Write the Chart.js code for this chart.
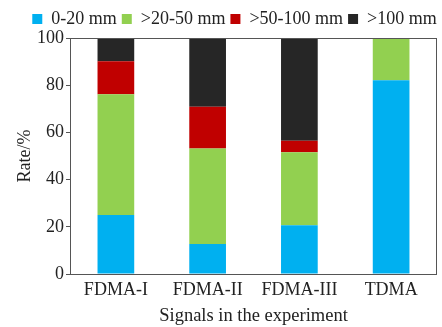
<!DOCTYPE html>
<html>
<head>
<meta charset="utf-8">
<script src="https://cdn.jsdelivr.net/npm/chart.js@4"></script>
<style>
  html, body { margin: 0; padding: 0; background: #fff; }
  #wrap { width: 442px; height: 327px; }
</style>
</head>
<body>
<div id="wrap"><canvas id="chart" width="442" height="327"></canvas></div>
<script>
// categories and stacked values (percent)
const signals = ['FDMA-I', 'FDMA-II', 'FDMA-III', 'TDMA'];
const seriesNames = ['0-20 mm', '>20-50 mm', '>50-100 mm', '>100 mm'];
const rate0to20 = [25.0, 12.7, 20.7, 82.1];
const rate20to50 = [51.2, 40.5, 30.9, 17.9];
const rate50to100 = [14.0, 17.7, 4.9, 0];
const rateOver100 = [9.8, 29.1, 43.5, 0];
const yTicks = [0, 20, 40, 60, 80, 100];

const colors = ['#00B0F0', '#92D050', '#C00000', '#262626'];
const serif = "'Liberation Serif', 'Times New Roman', serif";

// box round the plot area
const frame = {
    id: 'frame',
    afterDraw(chart) {
        const a = chart.chartArea;
        const ctx = chart.ctx;
        ctx.save();
        ctx.strokeStyle = '#555';
        ctx.lineWidth = 1;
        ctx.strokeRect(a.left + 0.5, a.top + 0.5, a.right - a.left - 1, a.bottom - a.top);
        ctx.restore();
    }
};

// the legend in the original sits a little right of centre
const legendShift = {
    id: 'legendShift',
    afterLayout(chart) {
        if (chart.legend) {
            chart.legend.left += 16;
            chart.legend.right += 16;
        }
    }
};

const allSeries = [rate0to20, rate20to50, rate50to100, rateOver100];

new Chart(document.getElementById('chart'), {
    type: 'bar',
    data: {
        labels: signals,
        datasets: allSeries.map((d, i) => ({
            label: seriesNames[i],
            data: d,
            backgroundColor: colors[i],
            borderWidth: 0,
            barPercentage: 0.4,
            categoryPercentage: 1
        }))
    },
    options: {
        responsive: false,
        animation: false,
        layout: { padding: { top: 5, right: 5, left: 0, bottom: 0 } },
        plugins: {
            tooltip: { enabled: false },
            legend: {
                position: 'top',
                labels: {
                    color: '#222',
                    font: { family: serif, size: 18 },
                    boxWidth: 10,
                    boxHeight: 10,
                    padding: 5
                }
            }
        },
        scales: {
            x: {
                stacked: true,
                grid: { display: false, drawTicks: false },
                border: { display: false },
                ticks: { color: '#222', font: { family: serif, size: 18 }, padding: 5 },
                title: {
                    display: true,
                    text: 'Signals in the experiment',
                    color: '#222',
                    font: { family: serif, size: 18.5 },
                    padding: { top: 0, bottom: 0 }
                },
                afterFit(scale) { scale.height = 53; }
            },
            y: {
                stacked: true,
                min: 0,
                max: 100,
                afterBuildTicks(scale) { scale.ticks = yTicks.map(v => ({ value: v })); },
                grid: { drawOnChartArea: false, tickLength: 4, color: '#555' },
                border: { display: false },
                ticks: { color: '#222', font: { family: serif, size: 18 }, padding: 2 },
                title: {
                    display: true,
                    text: 'Rate/%',
                    color: '#222',
                    font: { family: serif, size: 18 },
                    padding: { top: 14, bottom: 2 }
                },
                afterFit(scale) { scale.width = 70; }
            }
        }
    },
    plugins: [frame, legendShift]
});
</script>
</body>
</html>
